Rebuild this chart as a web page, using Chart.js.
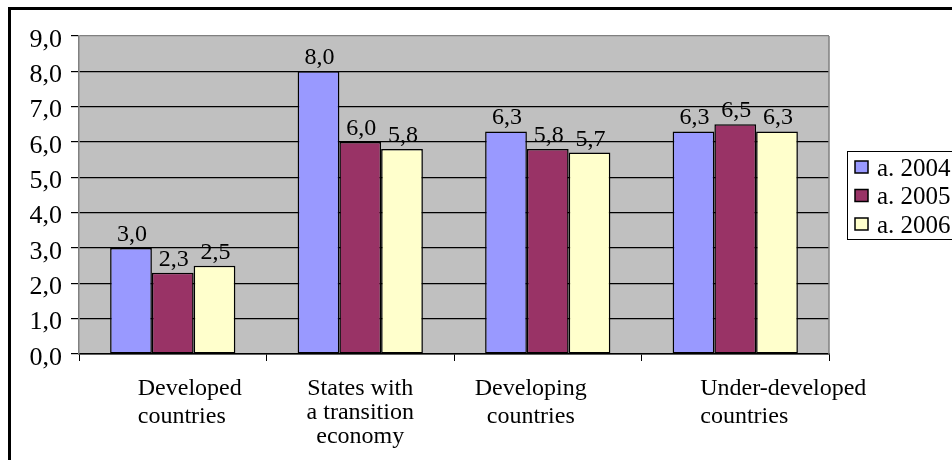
<!DOCTYPE html>
<html>
<head>
<meta charset="utf-8">
<script src="https://cdn.jsdelivr.net/npm/chart.js@4/dist/chart.umd.min.js"></script>
<style>
  html, body { margin: 0; padding: 0; background: #fff; overflow: hidden; }
  #wrap { width: 952px; height: 460px; position: relative; }
</style>
</head>
<body>
<div id="wrap"><canvas id="c" width="952" height="460"></canvas></div>
<script>
// ---- data ----
const categories = [
  ['Developed', 'countries'],
  ['States with', 'a transition', 'economy'],
  ['Developing', 'countries'],
  ['Under-developed', 'countries']
];
const seriesLabels = ['a. 2004', 'a. 2005', 'a. 2006'];
const values2004 = [3.0, 8.0, 6.3, 6.3];
const values2005 = [2.3, 6.0, 5.8, 6.5];
const values2006 = [2.5, 5.8, 5.7, 6.3];
const yMin = 0, yMax = 9, yStep = 1;

// ---- styles ----
const FONT = "'Liberation Serif', 'Times New Roman', serif";
const colors = ['#9999FF', '#993366', '#FFFFCC'];
const fmt = v => v.toFixed(1).replace('.', ',');
// per-category label alignment (style only)
const labelStyle = [
  { align: 'left', dx: -35 },
  { align: 'center', dx: 0 },
  { align: 'center', dx: -17 },
  { align: 'left', dx: -35 }
];

const deco = {
  id: 'deco',
  beforeDraw(chart) {
    const { ctx, chartArea: a } = chart;
    ctx.save();
    ctx.fillStyle = '#C0C0C0';
    ctx.fillRect(a.left, a.top, a.right - a.left, a.bottom - a.top);
    ctx.restore();
  },
  afterDatasetsDraw(chart) {
    const ctx = chart.ctx;
    ctx.save();
    ctx.font = '24px ' + FONT;
    ctx.fillStyle = '#000';
    ctx.textAlign = 'center';
    ctx.textBaseline = 'alphabetic';
    chart.data.datasets.forEach((ds, di) => {
      chart.getDatasetMeta(di).data.forEach((el, i) => {
        ctx.fillText(fmt(ds.data[i]), el.x + 1, el.y - 7);
      });
    });
    ctx.restore();
  },
  afterDraw(chart) {
    const { ctx, chartArea: a } = chart;
    const xs = chart.scales.x, ys = chart.scales.y;
    ctx.save();
    // right plot border
    ctx.strokeStyle = '#808080';
    ctx.lineWidth = 1.5;
    ctx.beginPath();
    ctx.moveTo(a.right, a.top);
    ctx.lineTo(a.right, a.bottom);
    ctx.stroke();
    // y tick labels
    ctx.font = '26px ' + FONT;
    ctx.fillStyle = '#000';
    ctx.textAlign = 'right';
    ctx.textBaseline = 'middle';
    ys.ticks.forEach(t => {
      ctx.fillText(fmt(t.value), a.left - 17, ys.getPixelForValue(t.value) + 4);
    });
    // category labels
    ctx.font = '24px ' + FONT;
    ctx.textBaseline = 'alphabetic';
    chart.data.labels.forEach((lines, i) => {
      const st = labelStyle[i];
      const cx = xs.getPixelForValue(i) + st.dx;
      const lh = lines.length > 2 ? 24 : 28;
      ctx.textAlign = st.align;
      lines.forEach((t, j) => ctx.fillText(t, cx, a.bottom + 41 + j * lh));
    });
    // legend
    const lx = 847, ly = 151, lw = 140, lh2 = 88;
    ctx.fillStyle = '#fff';
    ctx.fillRect(lx, ly, lw, lh2);
    ctx.strokeStyle = '#000';
    ctx.lineWidth = 1;
    ctx.strokeRect(lx + 0.5, ly + 0.5, lw, lh2);
    ctx.font = '25px ' + FONT;
    ctx.textAlign = 'left';
    ctx.textBaseline = 'middle';
    chart.data.datasets.forEach((ds, i) => {
      const y = ly + 16 + i * 28.5;
      ctx.fillStyle = ds.backgroundColor;
      ctx.fillRect(855, y - 6, 13, 12);
      ctx.strokeStyle = '#000';
      ctx.lineWidth = 1.5;
      ctx.strokeRect(855, y - 6, 13, 12);
      ctx.fillStyle = '#000';
      ctx.fillText(ds.label, 877, y + 2);
    });
    // outer chart border
    ctx.strokeStyle = '#000';
    ctx.lineWidth = 3;
    ctx.strokeRect(9.5, 8.5, 1000, 500);
    ctx.restore();
  }
};

new Chart(document.getElementById('c'), {
  type: 'bar',
  data: {
    labels: categories,
    datasets: [
      { label: seriesLabels[0], data: values2004, backgroundColor: colors[0] },
      { label: seriesLabels[1], data: values2005, backgroundColor: colors[1] },
      { label: seriesLabels[2], data: values2006, backgroundColor: colors[2] }
    ].map(d => Object.assign(d, { borderColor: '#000', borderWidth: 1.5, borderSkipped: false }))
  },
  options: {
    responsive: false,
    animation: false,
    devicePixelRatio: 1,
    layout: { padding: { left: 0, right: 123, top: 36, bottom: 0 } },
    datasets: { bar: { categoryPercentage: 0.668, barPercentage: 1.0 } },
    plugins: { legend: { display: false }, tooltip: { enabled: false } },
    scales: {
      x: {
        ticks: { display: false },
        grid: { offset: true, drawOnChartArea: false, drawTicks: true, tickLength: 7, color: '#000' },
        border: { color: '#000', width: 1.5 },
        afterFit(s) { s.height = 106; }
      },
      y: {
        min: yMin, max: yMax,
        ticks: {
          stepSize: yStep,
          color: 'rgba(0,0,0,0)',
          font: { family: FONT, size: 20 },
          callback: v => fmt(v)
        },
        grid: {
          color: c => (c.tick && c.tick.value === yMax) ? '#808080' : '#000',
          lineWidth: 1.2,
          tickColor: '#000',
          tickLength: 8
        },
        border: { color: '#808080', width: 1.5 },
        afterFit(s) { s.width = 79; }
      }
    }
  },
  plugins: [deco]
});
</script>
</body>
</html>
